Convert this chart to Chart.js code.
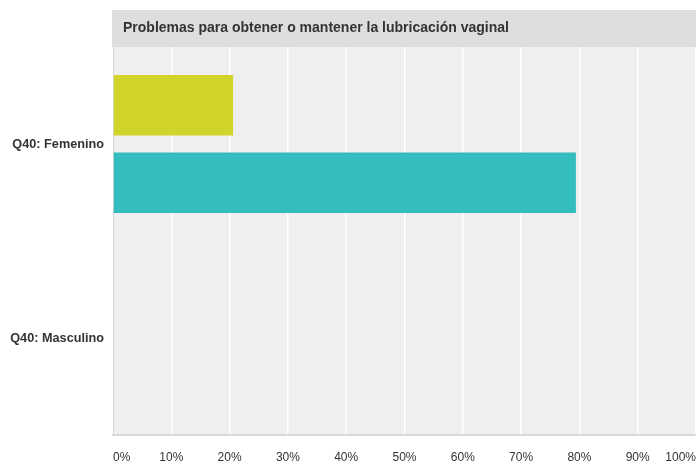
<!DOCTYPE html>
<html lang="es">
<head>
    <meta charset="UTF-8">
    <title>Problemas para obtener o mantener la lubricación vaginal</title>
    <script src="https://cdn.jsdelivr.net/npm/chart.js"></script>
    <style>
        html, body { margin: 0; padding: 0; background: #ffffff; }
        #wrap { width: 696px; height: 466px; }
    </style>
</head>
<body>
    <div id="wrap"><canvas id="chart" width="696" height="466"></canvas></div>
    <script>
        // Data
        const chartTitle = 'Problemas para obtener o mantener la lubricación vaginal';
        const categories = ['Q40: Femenino', 'Q40: Masculino'];
        const seriesNames = ['Sí', 'No'];
        const seriesA = [20.6, 0];
        const seriesB = [79.4, 0];
        const tickValues = [0, 10, 20, 30, 40, 50, 60, 70, 80, 90, 100];

        const FONT = '"Liberation Sans", Arial, Helvetica, sans-serif';

        // grey plot background + title band above the plot
        const panelPlugin = {
            id: 'panel',
            beforeDraw(chart) {
                const { ctx, chartArea: a } = chart;
                ctx.save();
                ctx.fillStyle = '#efefef';
                ctx.fillRect(a.left, a.top, a.right - a.left, a.bottom - a.top);
                ctx.fillStyle = '#dedede';
                ctx.fillRect(a.left - 1, 10, chart.width - a.left + 1, a.top - 10);
                ctx.fillStyle = '#333333';
                ctx.font = 'bold 14px ' + FONT;
                ctx.textBaseline = 'middle';
                ctx.fillText(chartTitle, a.left + 10, 28);
                ctx.restore();
            }
        };

        new Chart(document.getElementById('chart'), {
            type: 'bar',
            data: {
                labels: categories,
                datasets: [
                    { label: seriesNames[0], data: seriesA, backgroundColor: '#d1d42a' },
                    { label: seriesNames[1], data: seriesB, backgroundColor: '#33bdbf' }
                ]
            },
            options: {
                indexAxis: 'y',
                responsive: false,
                animation: false,
                layout: { padding: { top: 47, right: 0, left: 0, bottom: 0 } },
                categoryPercentage: 0.8,
                barPercentage: 0.78,
                plugins: {
                    legend: { display: false },
                    tooltip: { enabled: false },
                    title: { display: false }
                },
                scales: {
                    x: {
                        min: 0,
                        max: 100,
                        afterBuildTicks(scale) {
                            scale.ticks = tickValues.map(v => ({ value: v }));
                        },
                        afterFit(scale) {
                            scale.height = 31;
                            scale.paddingLeft = 0;
                            scale.paddingRight = 0;
                        },
                        grid: { color: '#ffffff', lineWidth: 1.5, drawTicks: false },
                        border: { color: '#d9d9d9', width: 2 },
                        ticks: {
                            padding: 15,
                            align: 'inner',
                            maxRotation: 0,
                            autoSkip: false,
                            color: '#333333',
                            font: { family: FONT, size: 12 },
                            callback: v => v + '%'
                        }
                    },
                    y: {
                        afterFit(scale) { scale.width = 113; },
                        grid: { display: false, drawTicks: false },
                        border: { color: '#d4d4d4', width: 1 },
                        ticks: {
                            padding: 9,
                            color: '#333333',
                            font: { family: FONT, size: 12.7, weight: 'bold' }
                        }
                    }
                }
            },
            plugins: [panelPlugin]
        });
    </script>
</body>
</html>
